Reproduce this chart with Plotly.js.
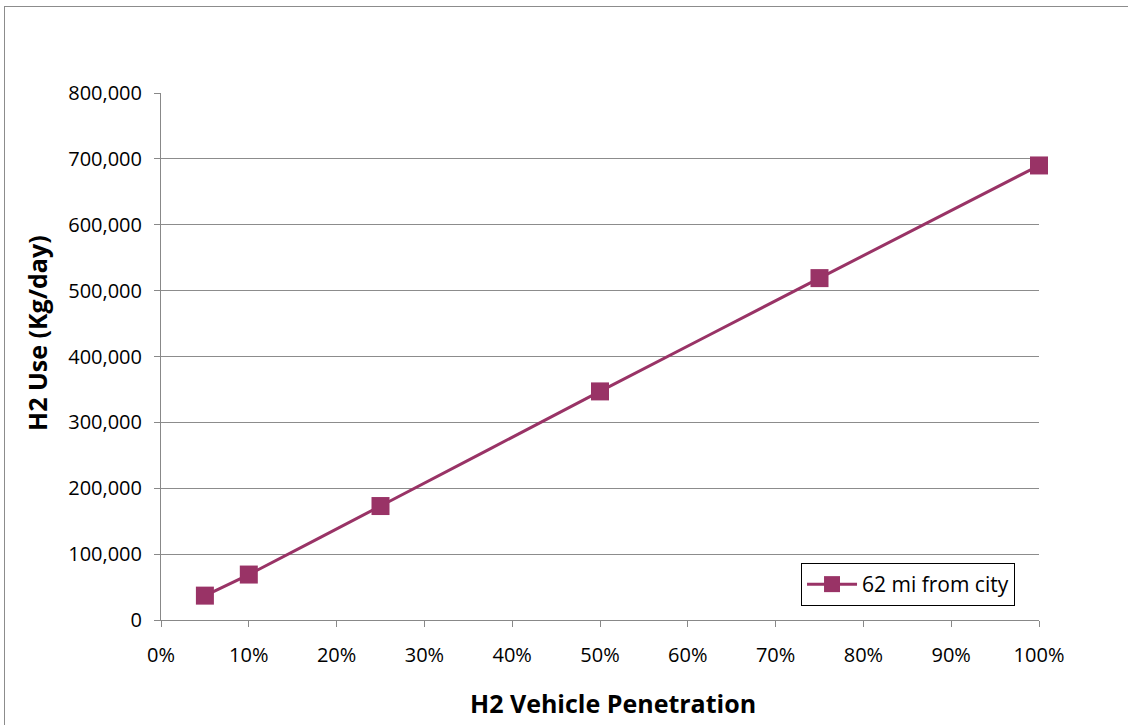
<!DOCTYPE html>
<html>
<head>
<meta charset="utf-8">
<script src="https://cdn.plot.ly/plotly-3.0.1.min.js"></script>
<style>
  html, body { margin: 0; padding: 0; background: #fff; }
  #frame { position: absolute; left: 4px; top: 6px; width: 1130px; height: 725px; border: 1.5px solid #8c8c8c; box-sizing: border-box; }
  #chart { position: absolute; left: 0; top: 0; width: 1128px; height: 725px; }
</style>
</head>
<body>
<div id="frame"></div>
<div id="chart"></div>
<script>
const penetration = [0.05, 0.10, 0.25, 0.50, 0.75, 1.00];
const h2Use = [37000, 69000, 173000, 347000, 519000, 690000];
const seriesName = "62 mi from city";
const xTitle = "H2 Vehicle Penetration";
const yTitle = "H2 Use (Kg/day)";
const xTickVals = [0, 0.1, 0.2, 0.3, 0.4, 0.5, 0.6, 0.7, 0.8, 0.9, 1.0];
const xTickText = ["0%", "10%", "20%", "30%", "40%", "50%", "60%", "70%", "80%", "90%", "100%"];
const yTickVals = [0, 100000, 200000, 300000, 400000, 500000, 600000, 700000, 800000];
const yTickText = ["0", "100,000", "200,000", "300,000", "400,000", "500,000", "600,000", "700,000", "800,000"];

const color = "#993366";
const font = "'Open Sans', Lato, 'DejaVu Sans', sans-serif";
const W = 1128, H = 725, L = 161, R = 89, T = 93, B = 105;
const pw = W - L - R, ph = H - T - B;

Plotly.newPlot("chart", [{
  x: penetration,
  y: h2Use,
  name: seriesName,
  type: "scatter",
  mode: "lines+markers",
  cliponaxis: false,
  line: { color: color, width: 3, shape: "spline", smoothing: 0.3 },
  marker: { symbol: "square", size: 18, color: color }
}], {
  width: W, height: H,
  margin: { l: L, r: R, t: T, b: B },
  paper_bgcolor: "rgba(0,0,0,0)",
  plot_bgcolor: "rgba(0,0,0,0)",
  font: { family: font, size: 20, color: "#000" },
  showlegend: true,
  legend: {
    x: 0.9727, xanchor: "right",
    y: 0.0266, yanchor: "bottom",
    bordercolor: "#000", borderwidth: 1, bgcolor: "#fff",
    font: { family: font, size: 21, color: "#000" },
    itemwidth: 50,
    tracegroupgap: 0
  },
  annotations: [
    { text: "<b>" + xTitle + "</b>", xref: "paper", yref: "paper",
      x: (613 - L) / pw, y: (H - B - 703) / ph, xanchor: "center", yanchor: "middle",
      showarrow: false, font: { family: font, size: 25, color: "#000" } },
    { text: "<b>" + yTitle + "</b>", xref: "paper", yref: "paper", textangle: -90,
      x: (37 - L) / pw, y: (H - B - 333) / ph, xanchor: "center", yanchor: "middle",
      showarrow: false, font: { family: font, size: 25, color: "#000" } }
  ],
  xaxis: {
    range: [0, 1],
    tickvals: xTickVals, ticktext: xTickText,
    showgrid: false, zeroline: false,
    showline: true, linecolor: "#888", linewidth: 1,
    ticks: "outside", ticklen: 6, tickcolor: "#888",
    ticklabelstandoff: 11,
    tickfont: { family: font, size: 20 }
  },
  yaxis: {
    range: [0, 800000],
    tickvals: yTickVals, ticktext: yTickText,
    showgrid: true, gridcolor: "#8c8c8c", gridwidth: 1,
    zeroline: false,
    showline: true, linecolor: "#888", linewidth: 1,
    ticks: "outside", ticklen: 6, tickcolor: "#888",
    ticklabelstandoff: 8,
    tickfont: { family: font, size: 20 }
  }
}, { displayModeBar: false, staticPlot: true });
</script>
</body>
</html>
